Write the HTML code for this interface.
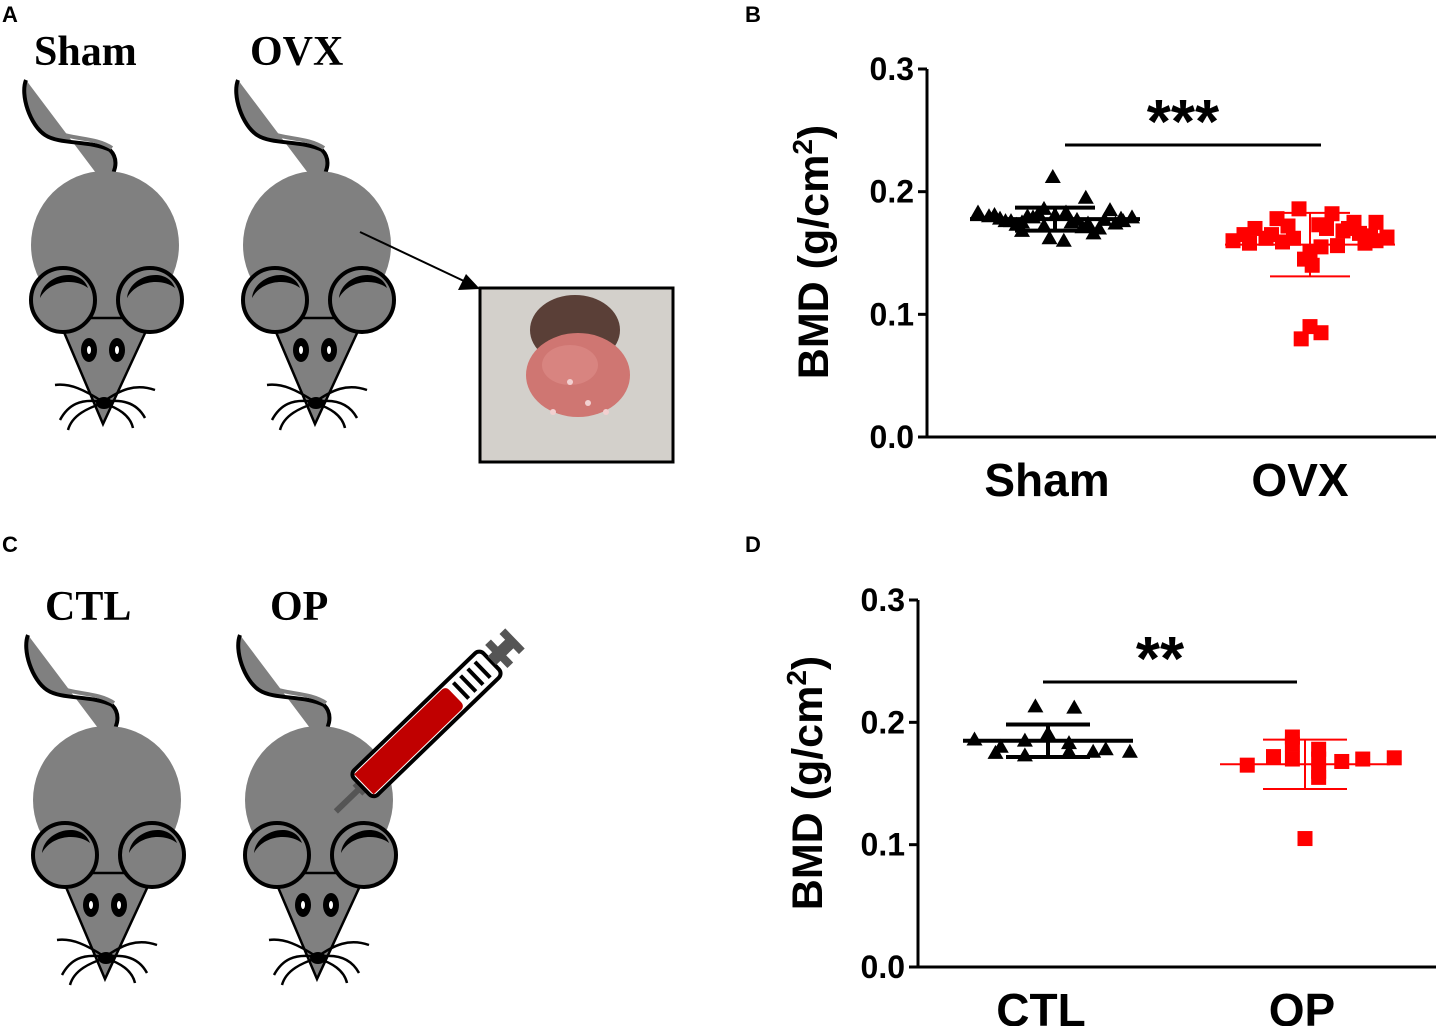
<!DOCTYPE html>
<html><head><meta charset="utf-8"><style>
body{margin:0;background:#fff;}
svg{display:block;font-family:"Liberation Sans",Arial,sans-serif;}
</style></head><body>
<svg id="fig" width="1440" height="1026" viewBox="0 0 1440 1026" xmlns="http://www.w3.org/2000/svg">
<defs>
<g id="mouse">
  <path d="M26,80 C20,95 30,125 45,135 C60,145 90,140 110,150 C120,160 115,175 105,185" fill="#808080" stroke="#000" stroke-width="4" stroke-linejoin="round"/>
  <path d="M30,88 C30,110 40,128 55,132 C75,140 95,137 112,148" fill="none" stroke="#808080" stroke-width="4"/>
  <circle cx="105" cy="245" r="74" fill="#808080"/>
  <polygon points="58,318 152,318 103,424" fill="#808080" stroke="#000" stroke-width="2.5"/>
  <circle cx="63" cy="300" r="32" fill="#808080" stroke="#000" stroke-width="4"/>
  <path d="M40,298 C42,275 80,265 88,288 C75,278 50,280 40,298Z" fill="#000"/>
  <circle cx="150" cy="300" r="32" fill="#808080" stroke="#000" stroke-width="4"/>
  <path d="M127,298 C129,275 167,265 175,288 C162,278 137,280 127,298Z" fill="#000"/>
  <ellipse cx="89" cy="350" rx="8" ry="12" fill="#000"/><ellipse cx="89" cy="350" rx="2" ry="4" fill="#fff"/>
  <ellipse cx="117" cy="350" rx="8" ry="12" fill="#000"/><ellipse cx="117" cy="350" rx="2" ry="4" fill="#fff"/>
  <g fill="none" stroke="#000" stroke-width="2.5">
   <path d="M103,402 C85,390 70,383 55,385"/><path d="M103,402 C80,398 68,405 60,420"/><path d="M103,403 C88,408 72,415 68,430"/>
   <path d="M103,402 C120,390 135,383 155,390"/><path d="M103,402 C125,398 138,405 145,418"/><path d="M103,403 C118,408 130,415 133,428"/>
  </g>
  <ellipse cx="104" cy="403" rx="8" ry="6" fill="#000"/>
</g>
</defs>
<g>
  <text x="2" y="22" font-size="22" font-weight="bold">A</text>
  <text x="34" y="65" font-family="Liberation Serif,serif" font-size="42" font-weight="bold">Sham</text>
  <text x="250" y="65" font-family="Liberation Serif,serif" font-size="42" font-weight="bold">OVX</text>
  <use href="#mouse"/>
  <use href="#mouse" transform="translate(212,0)"/>
  <line x1="360" y1="232" x2="466" y2="282" stroke="#000" stroke-width="2"/>
  <polygon points="480,289 458,290 466,274" fill="#000"/>
  <rect x="480" y="288" width="193" height="174" fill="#d3d0cb" stroke="#000" stroke-width="3"/>
  <ellipse cx="575" cy="330" rx="45" ry="35" fill="#5a3f37"/>
  <ellipse cx="578" cy="375" rx="52" ry="42" fill="#cf7672"/>
  <ellipse cx="570" cy="365" rx="28" ry="20" fill="#d88480"/>
  <circle cx="570" cy="382" r="3" fill="#f2d0d0"/><circle cx="553" cy="412" r="3" fill="#f2d0d0"/><circle cx="588" cy="403" r="3" fill="#f2d0d0"/><circle cx="606" cy="412" r="3" fill="#f2d0d0"/>
</g>
<g>
  <text x="2" y="552" font-size="22" font-weight="bold">C</text>
  <text x="45" y="620" font-family="Liberation Serif,serif" font-size="42" font-weight="bold">CTL</text>
  <text x="270" y="620" font-family="Liberation Serif,serif" font-size="42" font-weight="bold">OP</text>
  <use href="#mouse" transform="translate(2,555)"/>
  <use href="#mouse" transform="translate(214,555)"/>
  <g transform="translate(356,792) rotate(-44)">
    <rect x="-28" y="-3" width="32" height="6" fill="#555"/>
    <rect x="2" y="-7" width="10" height="14" fill="#555"/>
    <rect x="8" y="-17" width="180" height="34" rx="6" fill="#fff" stroke="#000" stroke-width="4"/>
    <path d="M11,-14 H132 Q138,-14 138,-8 V8 Q138,14 132,14 H11 Z" fill="#c00000"/>
    <g stroke="#000" stroke-width="4"><line x1="146" y1="-11" x2="146" y2="11"/><line x1="156" y1="-11" x2="156" y2="11"/><line x1="166" y1="-11" x2="166" y2="11"/><line x1="176" y1="-11" x2="176" y2="11"/></g>
    <rect x="189" y="-6" width="26" height="12" fill="#555"/>
    <rect x="195" y="-16" width="8" height="32" fill="#555"/>
    <rect x="213" y="-14" width="8" height="28" fill="#555"/>
  </g>
</g>
<text x="745" y="22" font-size="22" font-weight="bold">B</text>
<text x="745" y="552" font-size="22" font-weight="bold">D</text>
<g id="chartB"></g>
<g id="chartD"></g>
</svg>
<script>
const NS='http://www.w3.org/2000/svg';
const yTicks=[0.0,0.1,0.2,0.3];
const yTickLabels=['0.0','0.1','0.2','0.3'];
const categoriesB=['Sham','OVX'];
const shamValues=[0.212,0.180,0.178,0.176,0.175,0.179,0.172,0.181,0.183,0.177,0.174,0.170,0.185,0.178,0.176,0.173,0.180,0.182,0.175,0.171,0.166,0.162,0.160,0.168,0.177,0.186,0.195,0.179,0.174,0.181,0.176,0.183];
const shamJitter=[-0.02,-0.6,-0.5,-0.4,-0.3,-0.2,-0.1,0.0,0.1,0.2,0.3,0.4,0.5,0.6,-0.45,-0.35,-0.25,-0.15,0.15,0.25,0.35,-0.05,0.08,-0.3,0.45,-0.1,0.28,0.7,0.55,-0.55,0.62,-0.7];
const ovxValues=[0.186,0.182,0.178,0.175,0.170,0.165,0.160,0.158,0.162,0.168,0.172,0.155,0.150,0.145,0.160,0.163,0.166,0.159,0.175,0.170,0.156,0.162,0.170,0.158,0.140,0.165,0.173,0.164,0.090,0.080,0.085];
const ovxJitter=[-0.1,0.2,-0.3,0.4,-0.5,-0.6,0.6,0.5,-0.4,0.3,-0.2,0.1,0.0,-0.05,-0.7,0.7,0.45,-0.25,0.6,0.15,0.25,-0.15,0.35,-0.55,0.02,-0.35,0.08,0.55,0.0,-0.08,0.1];
const categoriesD=['CTL','OP'];
const ctlValues=[0.213,0.212,0.191,0.186,0.185,0.183,0.180,0.178,0.176,0.175,0.176,0.173,0.176];
const ctlJitter=[-0.12,0.25,0.0,-0.7,-0.22,0.2,-0.45,0.55,0.78,-0.5,0.2,-0.22,0.43];
const opValues=[0.188,0.182,0.178,0.170,0.172,0.168,0.165,0.170,0.171,0.170,0.160,0.155,0.105];
const opJitter=[-0.12,-0.12,0.13,0.13,-0.3,0.35,-0.55,0.55,0.85,-0.12,0.13,0.13,0.0];
function el(parent,tag,attrs,txt){const e=document.createElementNS(NS,tag);for(const k in attrs)e.setAttribute(k,attrs[k]);if(txt!==undefined)e.textContent=txt;parent.appendChild(e);return e;}
function stats(v){const m=v.reduce((a,b)=>a+b,0)/v.length;const sd=Math.sqrt(v.reduce((a,b)=>a+(b-m)*(b-m),0)/(v.length-1));return[m,sd];}
function chart(gid,cfg){
  const g=document.getElementById(gid);
  const y=v=>cfg.y0-(v/0.3)*(cfg.y0-cfg.y3);
  const ax=el(g,'line',{x1:cfg.ax,y1:cfg.y3,x2:cfg.ax,y2:cfg.y0,stroke:'#000','stroke-width':3});
  
  
  const xa=el(g,'line',{x1:cfg.ax-1.5,y1:cfg.y0,x2:1436,y2:cfg.y0,stroke:'#000','stroke-width':3});
  
  
  yTicks.forEach((t,i)=>{
    el(g,'line',{x1:cfg.ax-9,y1:y(t),x2:cfg.ax,y2:y(t),stroke:'#000','stroke-width':3});
    const tl=el(g,'text',{x:cfg.ax-13,y:y(t)+11,'font-size':32,'font-weight':'bold','text-anchor':'end'},yTickLabels[i]);
    
    
  });
  const tt=el(g,'text',{transform:`translate(${cfg.tx},${cfg.ty}) rotate(-90)`,'font-size':43,'font-weight':'bold','text-anchor':'middle'});
  
  
  el(tt,'tspan',{},'BMD (g/cm');el(tt,'tspan',{'font-size':28,dy:-16},'2');el(tt,'tspan',{dy:16},')');
  cfg.cats.forEach((c,i)=>{
    const l=el(g,'text',{x:cfg.lx[i],y:cfg.y0+59,'font-size':46,'font-weight':'bold','text-anchor':'middle'},c);
    
    
    const vals=cfg.vals[i],jit=cfg.jit[i],col=i?'#ff0000':'#000';
    vals.forEach((v,k)=>{
      const x=cfg.cx[i]+jit[k]*cfg.spread,yy=y(v);let p;
      if(i==0)p=el(g,'polygon',{points:`${x},${yy-8} ${x-8},${yy+6} ${x+8},${yy+6}`,fill:col});
      else p=el(g,'rect',{x:x-7.5,y:yy-7.5,width:15,height:15,fill:col});
      
      
    });
    const [m,sd]=stats(vals);
    const sw=i?2:4;
    el(g,'line',{x1:cfg.cx[i]-cfg.mw,y1:y(m),x2:cfg.cx[i]+cfg.mw,y2:y(m),stroke:col,'stroke-width':sw});
    el(g,'line',{x1:cfg.cx[i]-cfg.sw,y1:y(m+sd),x2:cfg.cx[i]+cfg.sw,y2:y(m+sd),stroke:col,'stroke-width':sw});
    el(g,'line',{x1:cfg.cx[i]-cfg.sw,y1:y(m-sd),x2:cfg.cx[i]+cfg.sw,y2:y(m-sd),stroke:col,'stroke-width':sw});
    el(g,'line',{x1:cfg.cx[i],y1:y(m+sd),x2:cfg.cx[i],y2:y(m-sd),stroke:col,'stroke-width':sw});
  });
  el(g,'line',{x1:cfg.sig[0],y1:cfg.sig[2],x2:cfg.sig[1],y2:cfg.sig[2],stroke:'#000','stroke-width':3});
  const st=el(g,'text',{x:(cfg.sig[0]+cfg.sig[1])/2-10,y:cfg.sig[2]-2,'font-size':62,'font-weight':'bold','text-anchor':'middle'},cfg.stars);
  
  
}
chart('chartB',{ax:927,y0:437,y3:69,tx:828,ty:252,cats:categoriesB,cx:[1055,1310],lx:[1047,1300],vals:[shamValues,ovxValues],jit:[shamJitter,ovxJitter],spread:110,mw:85,sw:40,sig:[1065,1321,145],stars:'***'});
chart('chartD',{ax:918,y0:967,y3:600,tx:822,ty:783,cats:categoriesD,cx:[1048,1305],lx:[1041,1302],vals:[ctlValues,opValues],jit:[ctlJitter,opJitter],spread:105,mw:85,sw:42,sig:[1043,1297,682],stars:'**'});
</script>
</body></html>
